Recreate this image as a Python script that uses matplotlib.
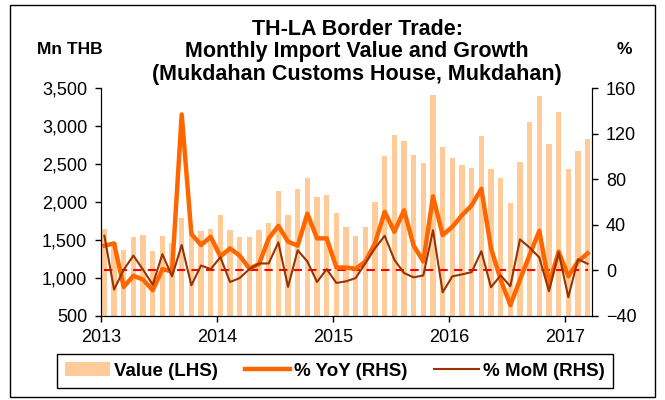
import numpy as np
import matplotlib.pyplot as plt
from matplotlib.patches import Rectangle

plt.rcParams['font.family'] = ['Liberation Sans', 'DejaVu Sans']

# monthly data Jan 2013 - Mar 2017
value = [1640, 1480, 1370, 1545, 1560, 1360, 1550, 1455, 1785, 1615,
         1615, 1640, 1825, 1630, 1540, 1540, 1630, 1730, 2150, 1835,
         2165, 2320, 2060, 2090, 1850, 1670, 1555, 1670, 1995, 2610,
         2885, 2800, 2620, 2515, 3405, 2725, 2575, 2485, 2450, 2865,
         2430, 2315, 1985, 2530, 3050, 3390, 2765, 3185, 2430, 2675, 2825]
yoy = [21.7, 23.7, -14.5, -4.7, -8.1, -17.4, 1.1, -0.9, 136.8, 31.9,
       22.3, 29.5, 12.2, 19.4, 12.9, 1.7, 5.5, 28, 39.1, 25.2,
       21.7, 49.8, 28.1, 28.1, 2.6, 2.5, 1.4, 7.8, 23.7, 51.3,
       33.9, 52.7, 21.7, 7.8, 64.9, 31.0, 38.2, 48.4, 57.1, 71.6,
       19.4, -8.1, -30.5, -8.1, 13.6, 34.8, -12.5, 16.5, -5.2, 7.8, 15.0]
mom = [30.4, -16.8, 0.6, 13.0, 0.6, -12.5, 14.2, -5.2, 22.3, -13.1,
       4.3, 1.1, 11.6, -10.2, -6.7, 1.1, 6.1, 6.1, 24.6, -14.5,
       17.7, 7.8, -10.2, 1.1, -11.0, -9.6, -6.7, 6.3, 19.4, 30.4,
       9.3, -2.3, -6.1, -4.4, 35.3, -19.2, -5.2, -3.5, -1.5, 16.8,
       -14.8, -4.4, -13.9, 27.2, 20.0, 11.3, -18.3, 15.9, -23.5, 9.8, 5.8]
years = ['2013', '2014', '2015', '2016', '2017']

x = np.arange(len(value)) + 0.35

fig = plt.figure(figsize=(6.65, 4), dpi=100)
ax = fig.add_axes([101/665, 1 - 316/400, 491/665, 228/400])
ax2 = ax.twinx()

ax.bar(x, value, width=0.55, color='#FFCC99', label='Value (LHS)')
ax2.plot(x, np.zeros(len(x)), color='#FF0000', lw=1.5, ls=(0, (4, 3)))
l1, = ax2.plot(x, yoy, color='#FF6600', lw=3.2, label='% YoY (RHS)')
l2, = ax2.plot(x, mom, color='#993300', lw=1.5, label='% MoM (RHS)')

ax.set_xlim(0, 50.8)
ax.set_ylim(500, 3500)
ax2.set_ylim(-40, 160)
ax.set_xticks([0, 12, 24, 36, 48])
ax.set_xticklabels(years)
ax.set_yticks(range(500, 3501, 500))
ax.set_yticklabels(['{:,}'.format(v) for v in range(500, 3501, 500)])
ax2.set_yticks(range(-40, 161, 40))

for a in (ax, ax2):
    a.spines['top'].set_visible(False)
    a.tick_params(direction='out', length=4, width=1, labelsize=13, pad=6)
ax.tick_params(axis='x', pad=5)

title_lines = ['TH-LA Border Trade:', 'Monthly Import Value and Growth',
               '(Mukdahan Customs House, Mukdahan)']
for i, line in enumerate(title_lines):
    fig.text(357/665, 1 - (35 + 22.5 * i)/400, line, ha='center', va='baseline',
             fontsize=15.5, fontweight='bold')
fig.text(70/665, 1 - 49/400, 'Mn THB', ha='center', va='center', fontsize=12.5, fontweight='bold')
fig.text(624/665, 1 - 49/400, '%', ha='center', va='center', fontsize=12.5, fontweight='bold')

handles = [ax.patches[0], l1, l2]
leg = fig.legend(handles, ['Value (LHS)', '% YoY (RHS)', '% MoM (RHS)'],
                 loc='center', bbox_to_anchor=(335/665, 1 - 371/400), ncol=3,
                 frameon=True, fancybox=False, edgecolor='black', framealpha=1,
                 prop={'weight': 'bold', 'size': 13.5}, handlelength=2.4,
                 handletextpad=0.2, columnspacing=1.45, borderpad=0.45)
leg.get_frame().set_linewidth(1)

fig.patches.append(Rectangle((10/665, 3/400), 645/665, 392/400, transform=fig.transFigure,
                             fill=False, edgecolor='black', lw=1))

fig.savefig('out.png', dpi=100)
